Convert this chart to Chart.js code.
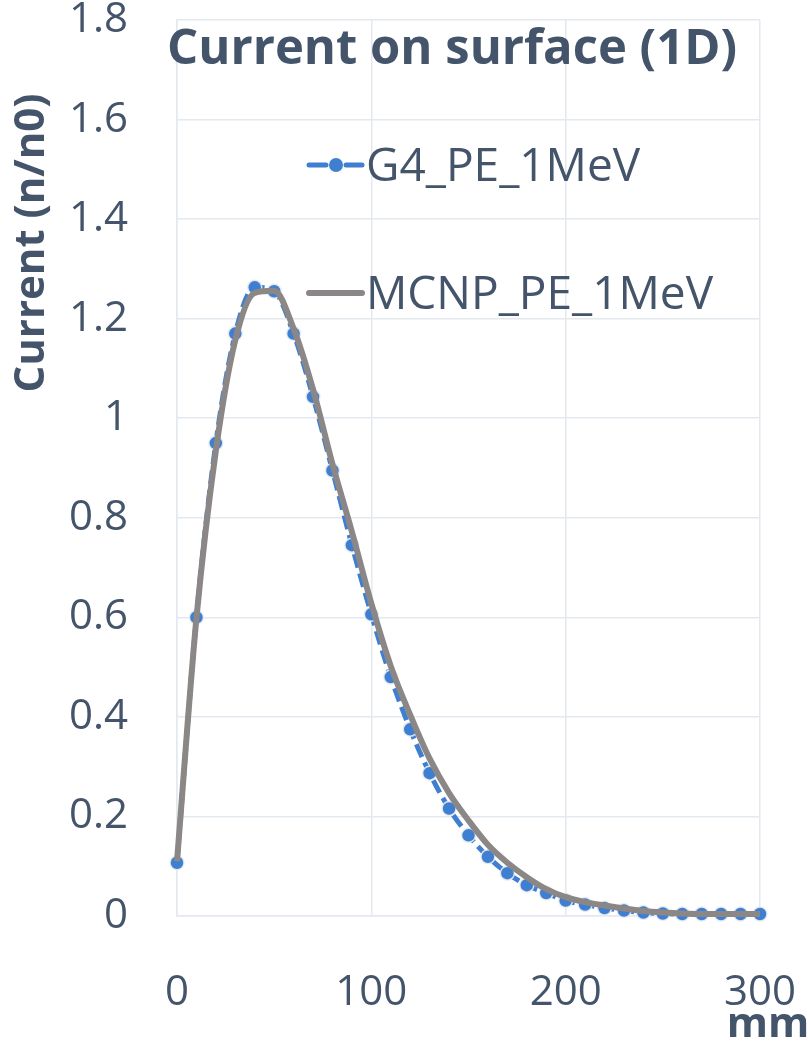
<!DOCTYPE html>
<html>
<head>
<meta charset="utf-8">
<script src="https://cdn.jsdelivr.net/npm/chart.js@4"></script>
<style>
  html, body { margin: 0; padding: 0; background: #fff; }
  #wrap { width: 808px; height: 1045px; }
</style>
</head>
<body>
<div id="wrap"><canvas id="current-chart"></canvas></div>
<script>
// depth along surface (mm)
const depthG4 = [0, 10, 20, 30, 40, 50, 60, 70, 80, 90, 100, 110, 120, 130, 140, 150,
  160, 170, 180, 190, 200, 210, 220, 230, 240, 250, 260, 270, 280, 290, 300];
const currentG4 = [0.107, 0.600, 0.950, 1.170, 1.263, 1.255, 1.170, 1.043, 0.895, 0.745, 0.606,
  0.480, 0.375, 0.287, 0.216, 0.162, 0.119, 0.086, 0.062, 0.046, 0.031, 0.023, 0.016, 0.011,
  0.007, 0.005, 0.004, 0.004, 0.004, 0.004, 0.004];

const depthMCNP = depthG4;
const currentMCNP = [0.110, 0.598, 0.935, 1.157, 1.252, 1.256, 1.180, 1.058, 0.908, 0.772, 0.628,
  0.502, 0.404, 0.316, 0.247, 0.192, 0.143, 0.107, 0.078, 0.054, 0.038, 0.028, 0.021, 0.015,
  0.010, 0.007, 0.005, 0.004, 0.004, 0.004, 0.004];

const xTicks = [0, 100, 200, 300];
const yTicks = [0, 0.2, 0.4, 0.6, 0.8, 1, 1.2, 1.4, 1.6, 1.8];
const yTickLabels = ['0', '0.2', '0.4', '0.6', '0.8', '1', '1.2', '1.4', '1.6', '1.8'];

const seriesNames = ['G4_PE_1MeV', 'MCNP_PE_1MeV'];

const TEXT = '#44546a';
const BLUE = '#3f7fd2';
const GREY = '#8b8787';
const GRID = '#e4e9f0';
const FONT = '"Open Sans", "DejaVu Sans", sans-serif';

const toPoints = (xs, ys) => xs.map((x, i) => ({ x: x, y: ys[i] }));

// keep tick labels from pushing the plot area inwards
const noOverflow = (s) => {
  s.paddingTop = 0; s.paddingBottom = 0; s.paddingLeft = 0; s.paddingRight = 0;
};

// title, axis titles and the in-plot legend
const overlayText = {
  id: 'overlayText',
  afterDraw(chart) {
    const ctx = chart.ctx;
    ctx.save();
    ctx.fillStyle = TEXT;
    ctx.textBaseline = 'middle';

    ctx.font = 'bold 49px ' + FONT;
    ctx.textAlign = 'center';
    ctx.fillText('Current on surface (1D)', 452, 50);

    ctx.font = 'bold 42px ' + FONT;
    ctx.fillText('mm', 768, 1025);

    ctx.save();
    ctx.translate(32, 243);
    ctx.rotate(-Math.PI / 2);
    ctx.fillText('Current (n/n0)', 0, 0);
    ctx.restore();

    // legend entries
    const rows = [165, 293];
    chart.data.datasets.forEach((ds, i) => {
      const y = rows[i];
      ctx.save();
      ctx.strokeStyle = ds.borderColor;
      ctx.lineWidth = ds.borderWidth;
      ctx.lineCap = 'round';
      if (i === 0) {
        ctx.beginPath(); ctx.moveTo(309, y); ctx.lineTo(326, y); ctx.stroke();
        ctx.beginPath(); ctx.moveTo(346, y); ctx.lineTo(362, y); ctx.stroke();
        ctx.beginPath();
        ctx.arc(336, y, ds.pointRadius, 0, Math.PI * 2);
        ctx.fillStyle = ds.pointBackgroundColor;
        ctx.fill();
      } else {
        ctx.beginPath(); ctx.moveTo(309, y); ctx.lineTo(362, y); ctx.stroke();
      }
      ctx.restore();
      ctx.font = '46px ' + FONT;
      ctx.textAlign = 'left';
      ctx.fillText(seriesNames[i], 366, y + 3);
    });
    ctx.restore();
  }
};

const ctx = document.getElementById('current-chart').getContext('2d');
const currentChart = new Chart(ctx, {
  type: 'line',
  data: {
    datasets: [
      {
        label: seriesNames[0],
        data: toPoints(depthG4, currentG4),
        borderColor: BLUE,
        backgroundColor: BLUE,
        borderWidth: 5,
        borderDash: [14, 6],
        pointRadius: 7,
        pointBackgroundColor: BLUE,
        pointBorderColor: 'rgba(235,238,242,0.9)',
        pointBorderWidth: 1.5,
        cubicInterpolationMode: 'monotone',
        order: 1
      },
      {
        label: seriesNames[1],
        data: toPoints(depthMCNP, currentMCNP),
        borderColor: GREY,
        backgroundColor: GREY,
        borderWidth: 6,
        pointRadius: 0,
        cubicInterpolationMode: 'monotone',
        order: 0
      }
    ]
  },
  options: {
    responsive: true,
    maintainAspectRatio: false,
    animation: false,
    clip: false,
    layout: { padding: { top: 20, right: 48, left: 0, bottom: 0 } },
    plugins: {
      legend: { display: false },
      title: { display: false },
      tooltip: { enabled: false }
    },
    scales: {
      x: {
        type: 'linear',
        min: 0,
        max: 300,
        afterBuildTicks: (s) => { s.ticks = xTicks.map(v => ({ value: v })); },
        afterFit: (s) => { s.height = 129; noOverflow(s); },
        grid: { color: GRID, lineWidth: 1.5, drawTicks: false },
        border: { color: GRID, width: 1.5 },
        ticks: { color: TEXT, font: { family: FONT, size: 42 }, padding: 52, maxRotation: 0 }
      },
      y: {
        type: 'linear',
        min: 0,
        max: 1.8,
        afterBuildTicks: (s) => { s.ticks = yTicks.map(v => ({ value: v })); },
        afterFit: (s) => { s.width = 177; noOverflow(s); },
        grid: { color: GRID, lineWidth: 1.5, drawTicks: false },
        border: { color: GRID, width: 1.5 },
        ticks: {
          color: TEXT,
          font: { family: FONT, size: 42 },
          padding: 49,
          callback: (v) => yTickLabels[yTicks.indexOf(v)]
        }
      }
    }
  },
  plugins: [overlayText]
});
</script>
</body>
</html>
